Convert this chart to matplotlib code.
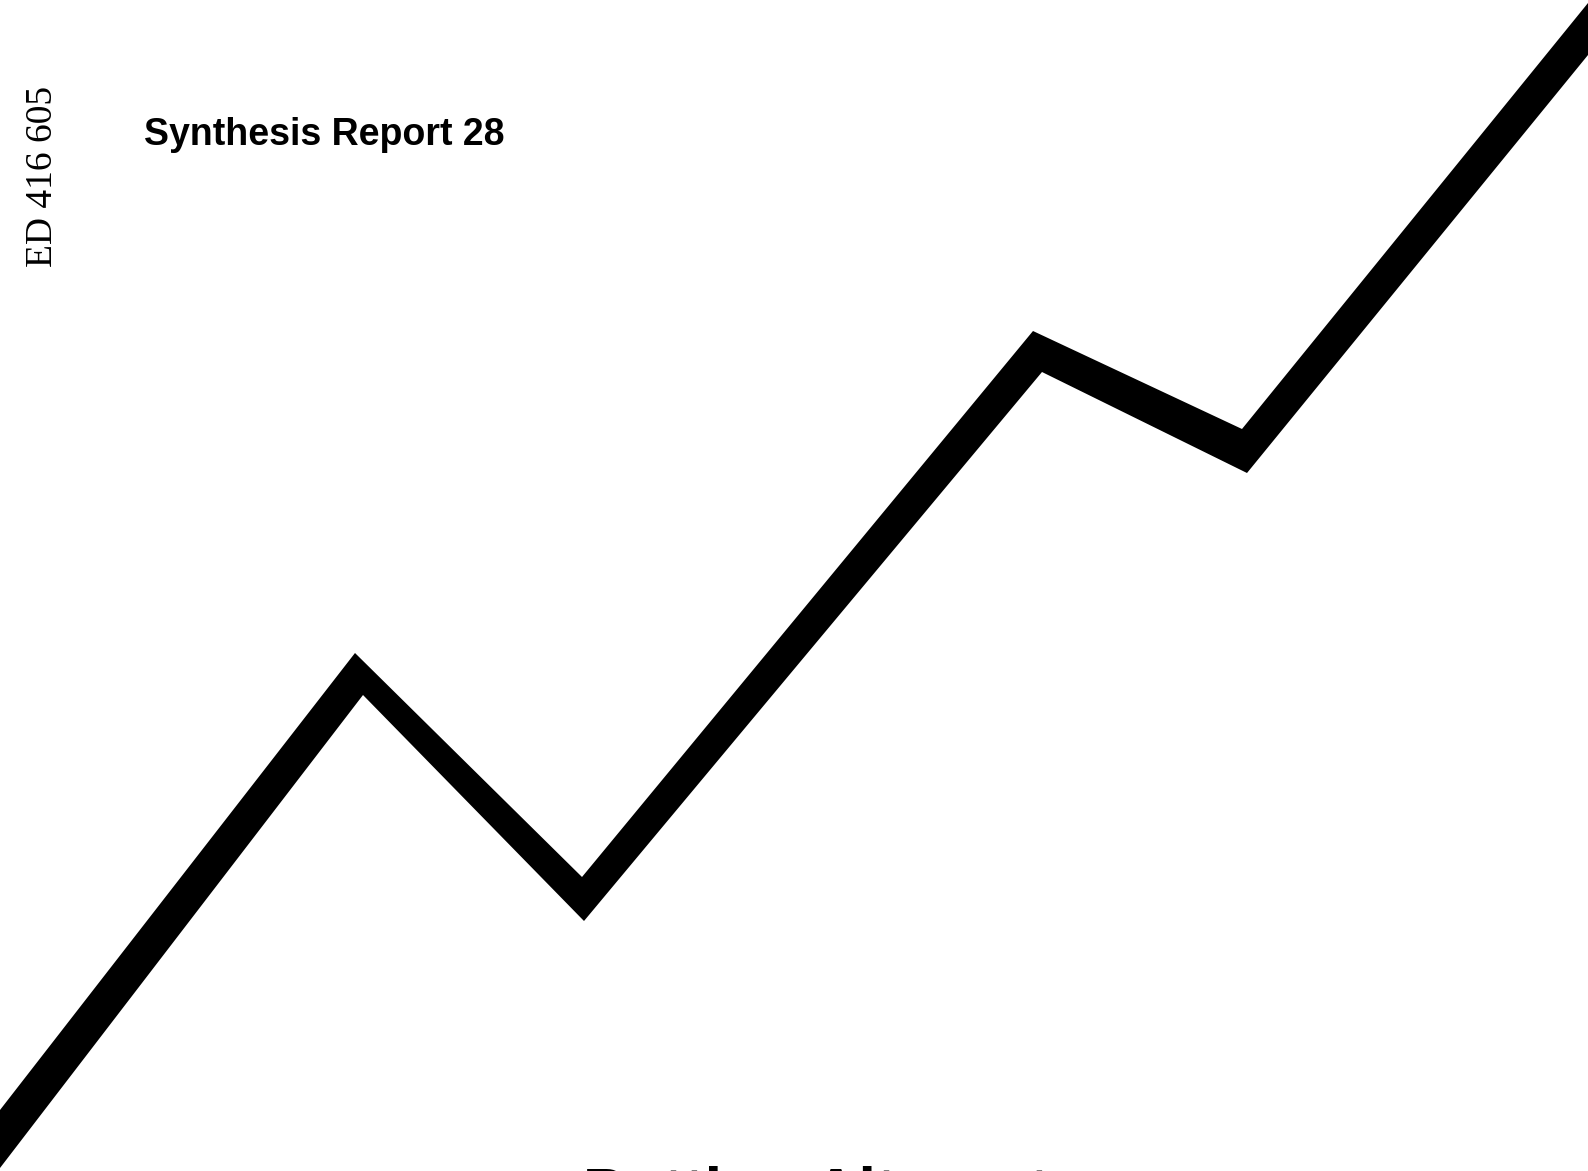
import numpy as np
import matplotlib.pyplot as plt

# zigzag band, upper and lower edge (x from left, y from bottom of page)
upper_x = [0, 355, 582, 1033, 1242, 1588]
upper_y = [61, 518, 294, 840, 742, 1168]
lower_x = [0, 363, 584, 1042, 1247, 1588]
lower_y = [3, 476, 250, 799, 698, 1116]

page_w, page_h = 1588, 1171

fig = plt.figure(figsize=(15.88, 11.71), dpi=100)
ax = fig.add_axes([0, 0, 1, 1])
ax.set_xlim(0, page_w)
ax.set_ylim(0, page_h)
ax.axis("off")

#draw the band as one filled polygon
poly_x = np.r_[upper_x, lower_x[::-1]]
poly_y = np.r_[upper_y, lower_y[::-1]]
ax.fill(poly_x, poly_y, color="black", linewidth=0, antialiased=True)

#text on the cover
ax.text(43, 995, "ED 416 605", rotation=90, ha="center", va="center",
        fontsize=27, family="Liberation Serif", color="black")
ax.text(144, 1026, "Synthesis Report 28", ha="left", va="baseline",
        fontsize=27, fontweight="bold", family="Liberation Sans", color="black")
#title runs off the bottom of the page, only its top shows
ax.text(583, -41, "Putting Alternate", ha="left", va="baseline",
        fontsize=45, fontweight="bold", family="Liberation Sans", color="black",
        clip_on=False)

fig.savefig("out.png", dpi=100, facecolor="white")
